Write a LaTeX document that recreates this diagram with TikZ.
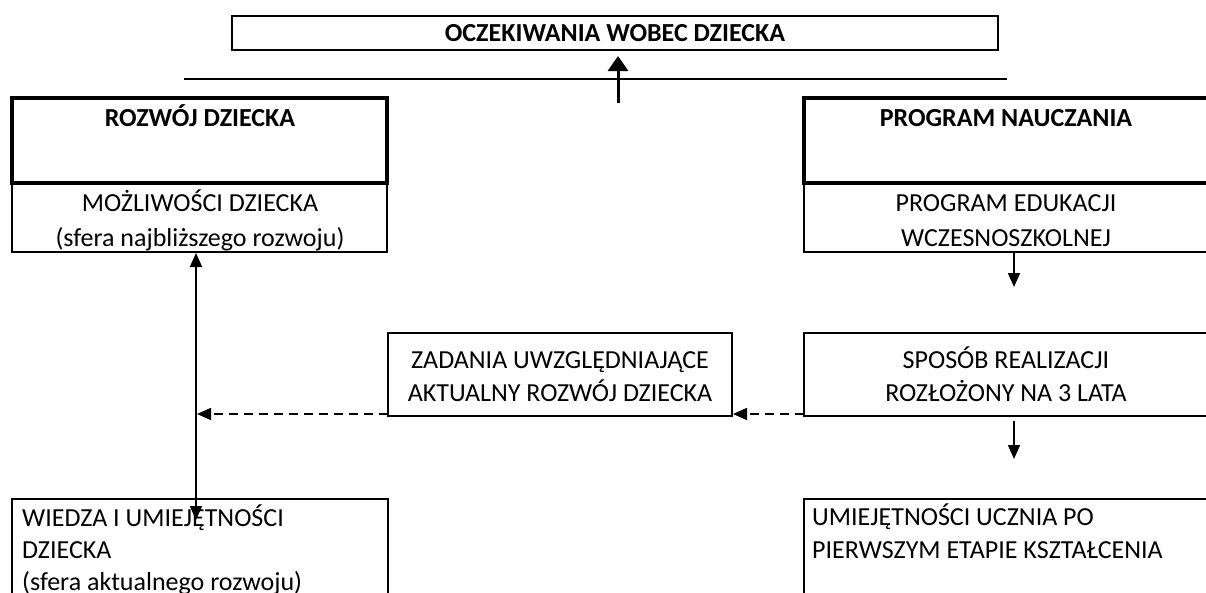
\documentclass[tikz,border=0pt]{standalone}
\usepackage{fontspec}
\setmainfont{Carlito}
\usetikzlibrary{arrows.meta}
\begin{document}
\begin{tikzpicture}[x=1pt,y=-1pt,
  box/.style={draw, line width=2pt, inner sep=0pt, outer sep=0pt, anchor=north west},
  thickbox/.style={box, line width=4pt},
  ctxt/.style={inner sep=0pt, align=center},
  ltxt/.style={inner sep=0pt, align=left, anchor=north west},
  arr/.style={line width=1.6pt, -{Triangle[length=14pt,width=12pt]}},
  darr/.style={arr, dash pattern=on 9pt off 6pt},
  bigarr/.style={line width=3pt, -{Triangle[length=15pt,width=20pt]}},
]
\useasboundingbox (0,0) rectangle (1206,592);
\clip (0,0) rectangle (1206,592);
\fill[white] (0,0) rectangle (1206,592);

% top
\node[draw, line width=2pt, inner sep=0pt, minimum width=766pt, minimum height=34pt,
      font=\fontsize{26}{33}\selectfont\bfseries] (top) at (615,33) {OCZEKIWANIA WOBEC DZIECKA};
\coordinate (hlA) at (184,79);
\coordinate (hlB) at (1007,79);
\draw[line width=1.6pt] (hlA) -- (hlB);
\coordinate (upS) at (618,103);
\coordinate (upT) at (618,56);
\draw[bigarr] (upS) -- (upT);

% left column
\node[thickbox, minimum width=375pt, minimum height=85pt] (rozwoj) at (12,98) {};
\node[box, minimum width=375pt, minimum height=69pt] (mozl) at (12,183) {};
\draw[line width=4pt] (rozwoj.south west) -- (rozwoj.south east);
\node[ctxt, font=\fontsize{26}{33}\selectfont\bfseries] (rozwojT) at (200,120) {\strut ROZWÓJ DZIECKA};
\node[ctxt, font=\fontsize{26}{35}\selectfont] (mozlT) at (200,222)
  {\strut MOŻLIWOŚCI DZIECKA\\\strut (sfera najbliższego rozwoju)};

% right column
\node[thickbox, minimum width=404pt, minimum height=85pt] (pn) at (804,98) {};
\node[box, minimum width=404pt, minimum height=69pt] (pe) at (804,183) {};
\draw[line width=4pt] (pn.south west) -- (pn.south east);
\node[ctxt, font=\fontsize{26}{33}\selectfont\bfseries] (pnT) at (1006,120) {\strut PROGRAM NAUCZANIA};
\node[ctxt, font=\fontsize{26}{35}\selectfont] (peT) at (1006,222)
  {\strut PROGRAM EDUKACJI\\\strut WCZESNOSZKOLNEJ};

% middle row
\node[box, minimum width=344pt, minimum height=83pt] (zad) at (388,333) {};
\node[ctxt, font=\fontsize{26}{33}\selectfont] (zadT) at (560,378)
  {\strut ZADANIA UWZGLĘDNIAJĄCE\\\strut AKTUALNY ROZWÓJ DZIECKA};
\node[box, minimum width=404pt, minimum height=83pt] (spos) at (804,333) {};
\node[ctxt, font=\fontsize{26}{33}\selectfont] (sposT) at (1006,378)
  {\strut SPOSÓB REALIZACJI\\\strut ROZŁOŻONY NA 3 LATA};

% bottom row
\node[box, minimum width=376pt, minimum height=120pt] (wiedza) at (12,499) {};
\node[ltxt, font=\fontsize{26}{32}\selectfont] (wiedzaT) at (22,504)
  {\strut WIEDZA I UMIEJĘTNOŚCI\\\strut DZIECKA\\\strut (sfera aktualnego rozwoju)};
\node[box, minimum width=404pt, minimum height=120pt] (umiej) at (804,499) {};
\node[ltxt, font=\fontsize{26}{33}\selectfont] (umiejT) at (812,502)
  {\strut UMIEJĘTNOŚCI UCZNIA PO\\\strut PIERWSZYM ETAPIE KSZTAŁCENIA};

% connectors
\coordinate (a1s) at (1014,252);
\coordinate (a1e) at (1014,287);
\draw[arr] (a1s) -- (a1e);
\coordinate (a2s) at (1014,421);
\coordinate (a2e) at (1014,459);
\draw[arr] (a2s) -- (a2e);

\coordinate (vtop) at (196,253);
\coordinate (vbot) at (196,520);
\draw[line width=1.6pt, {Triangle[length=14pt,width=12pt]}-{Triangle[length=14pt,width=12pt]}] (vtop) -- (vbot);

\draw[darr] ([yshift=2pt]spos.south west) -- ([yshift=2pt,xshift=1pt]zad.south east);
\draw[darr] ([yshift=2pt]zad.south west) -- ([yshift=2pt,xshift=1pt]zad.south west -| vtop);
\end{tikzpicture}
\end{document}
